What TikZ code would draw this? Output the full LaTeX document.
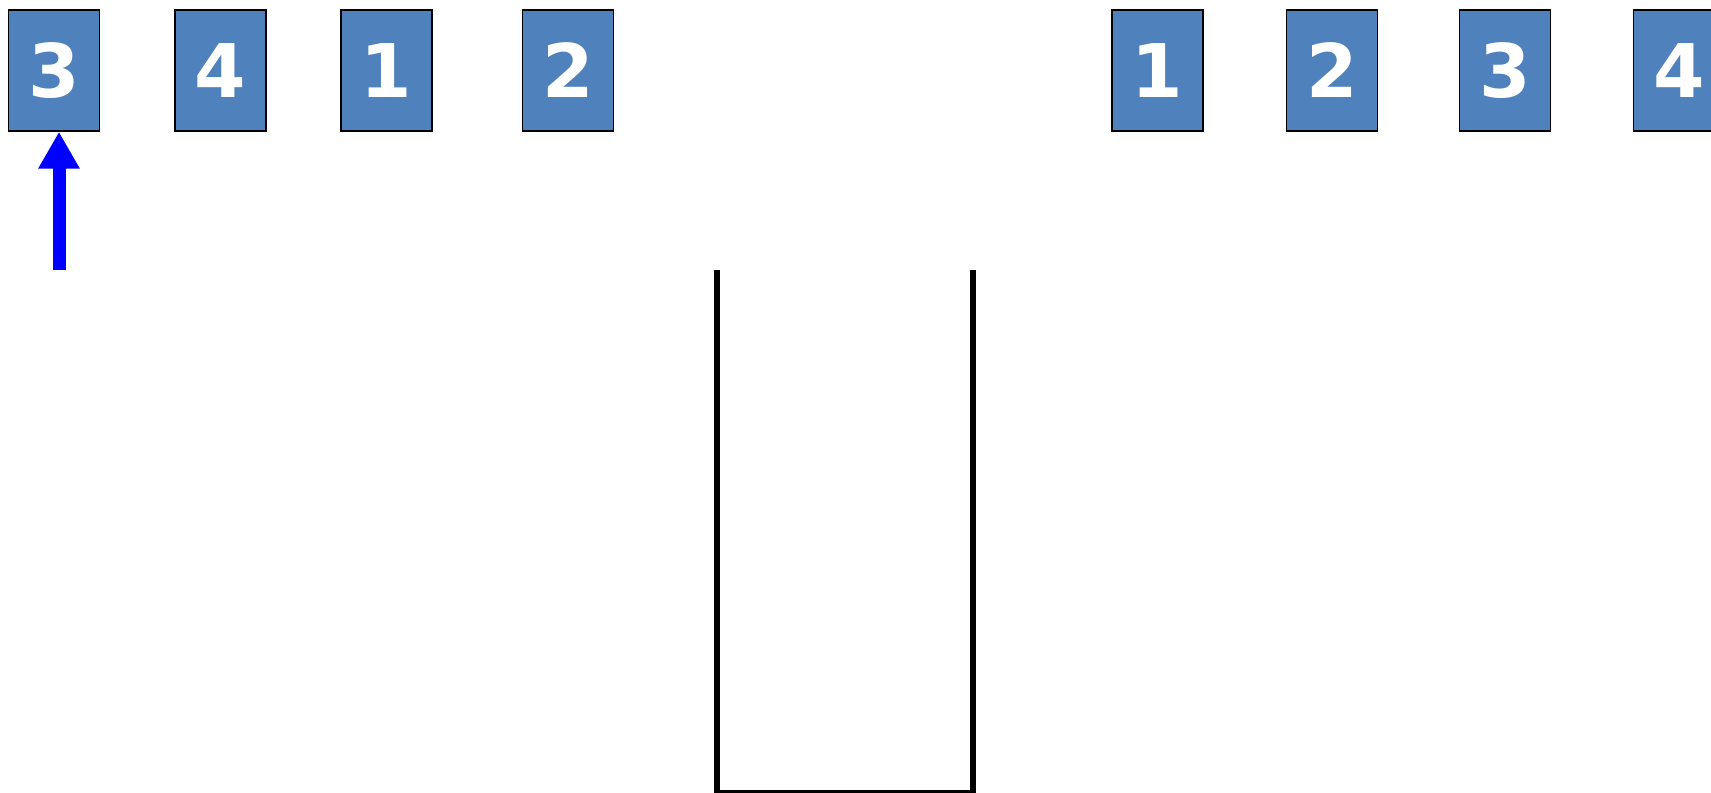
\documentclass[tikz,border=0pt]{standalone}
\usepackage{fontspec}
\setmainfont{DejaVu Sans}
\usetikzlibrary{arrows.meta}

\begin{document}
\begin{tikzpicture}[
  x=0.5pt,y=-0.5pt,
  card/.style={draw,line width=0.7pt,fill={rgb,255:red,79;green,129;blue,189},minimum width=45.5pt,minimum height=60.5pt,inner sep=0pt,text=white,font=\fontsize{37}{37}\selectfont\bfseries},
  pointer/.style={-{Triangle[width=19.5pt,length=18.5pt]},line width=6.5pt,blue},
  wall/.style={line width=2.6pt}
]
\useasboundingbox (0,0) rectangle (1711,792);

% shuffled cards
\node[card] (left3) at (54,70.5) {3};
\node[card] (left4) at (220.5,70.5) {4};
\node[card] (left1) at (386.5,70.5) {1};
\node[card] (left2) at (568,70.5) {2};

% sorted cards
\node[card] (right1) at (1157.5,70.5) {1};
\node[card] (right2) at (1332,70.5) {2};
\node[card] (right3) at (1505,70.5) {3};
\node[card] (right4) at (1679,70.5) {4};

% pointer to current card
\coordinate (ptr) at (59,270);
\draw[pointer] (ptr) -- (left3.south -| ptr);

% empty slot
\coordinate (slotA) at (717,270);
\coordinate (slotB) at (973,270);
\draw[wall] (slotA) -- (717,792.5) -- (973,792.5) -- (slotB);
\end{tikzpicture}
\end{document}
